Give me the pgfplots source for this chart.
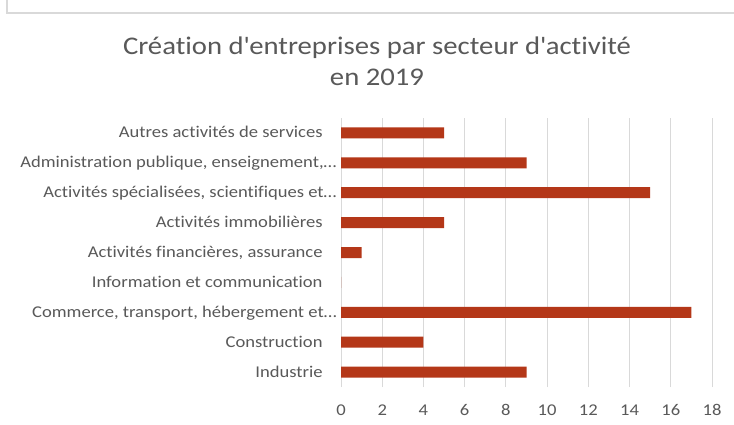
\documentclass[border=0pt]{standalone}
\usepackage{fontspec}
\setmainfont{Carlito}[FakeStretch=1.13, Ligatures={NoCommon}]
\usepackage{pgfplots}
\pgfplotsset{compat=1.18}
\definecolor{barc}{HTML}{B43718}
\definecolor{txt}{HTML}{595959}
\definecolor{grd}{HTML}{D9D9D9}
\begin{document}
\begin{tikzpicture}
\path[use as bounding box] (0bp,0bp) rectangle (734bp,425bp);
\fill[white] (0bp,0bp) rectangle (734bp,425bp);
\draw[grd, line width=1.5bp] (7bp,425bp) -- (7bp,412bp) -- (734bp,412bp);
\node[txt, font=\fontsize{25.5}{30}\selectfont, anchor=base] at (377bp,370bp)
  {Création d\textquotesingle entreprises par secteur d\textquotesingle activité};
\node[txt, font=\fontsize{25.5}{30}\selectfont, anchor=base] at (377bp,339bp) {en 2019};
\begin{axis}[
  at={(341bp,38bp)}, anchor=south west,
  scale only axis, width=371bp, height=269bp,
  xbar, bar width=11bp,
  xmin=0, xmax=18, ymin=-0.5, ymax=8.5,
  xtick={0,2,...,18}, ytick={0,...,8},
  yticklabels={Industrie, Construction, {Commerce, transport, hébergement et…\kern-14bp},
    Information et communication, {Activités financières, assurance},
    Activités immobilières, {Activités spécialisées, scientifiques et…\kern-14bp},
    {Administration publique, enseignement,…\kern-14bp}, Autres activités de services},
  axis line style={draw=none}, tick style={draw=none},
  xmajorgrids, major grid style={grd, line width=1bp},
  /pgf/number format/assume math mode=true,
  ticklabel style={txt, font=\fontsize{16.5}{19}\selectfont},
  yticklabel style={inner sep=0pt, anchor=base east, xshift=-14bp, yshift=-5bp},
  xticklabel style={inner sep=0pt, anchor=base, yshift=-28bp},
]
\addplot[fill=barc, draw=none] coordinates {(9,0) (4,1) (17,2) (0,3) (1,4) (5,5) (15,6) (9,7) (5,8)};
\end{axis}
\end{tikzpicture}
\end{document}
